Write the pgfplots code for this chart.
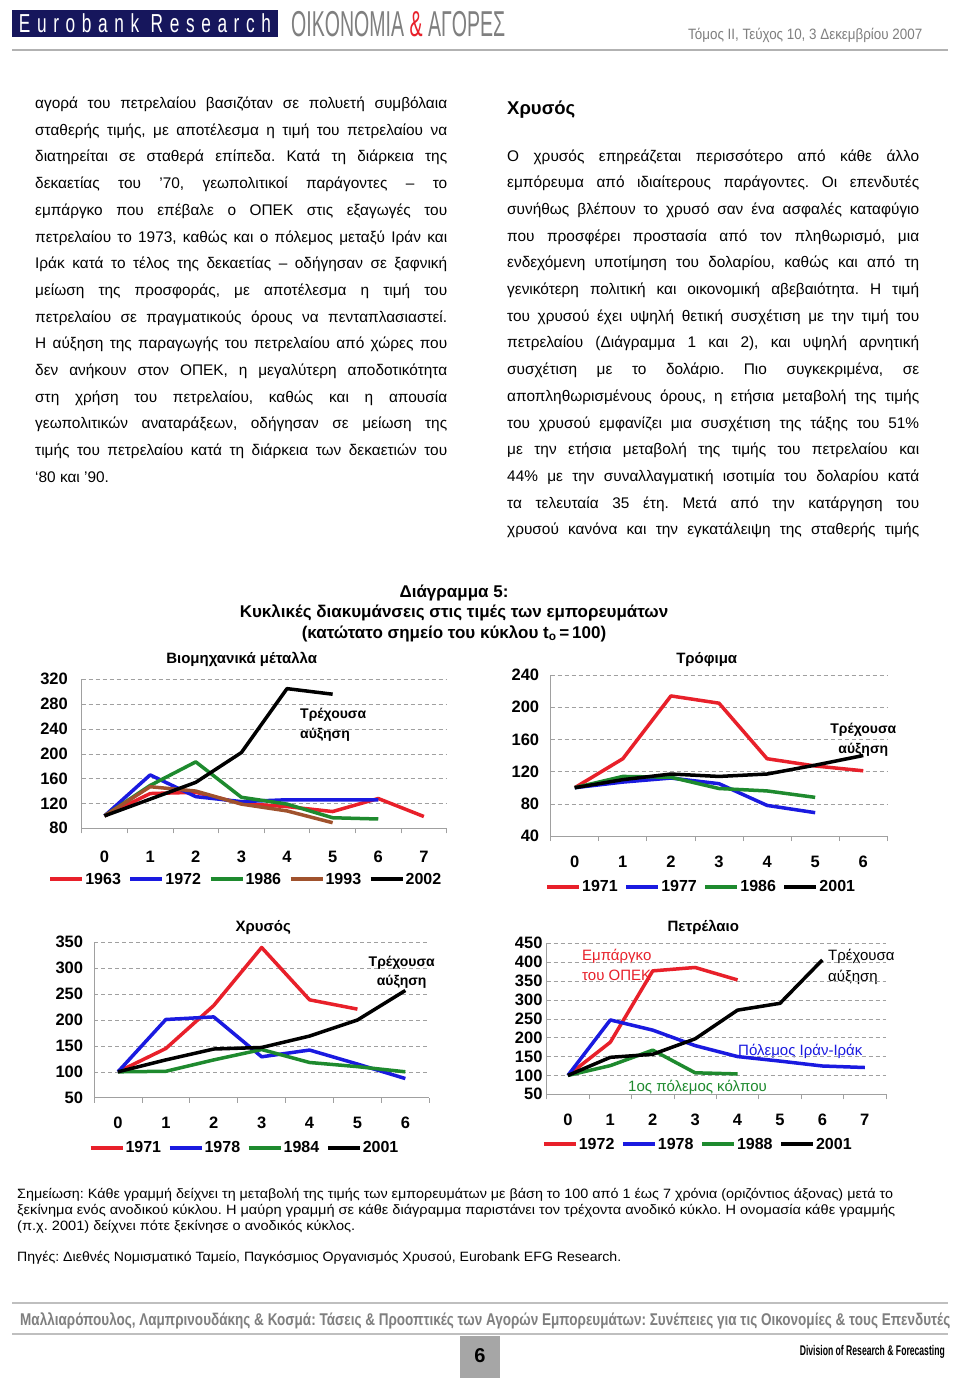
\documentclass[border=0pt]{standalone}
\usepackage{fontspec}
\setmainfont{Liberation Sans}
\newfontfamily\narrowfont[FakeStretch=0.78]{Liberation Sans}
\usepackage{graphicx}
\usepackage{pgfplots}
\pgfplotsset{compat=1.18}

\definecolor{cred}{HTML}{E8202A}
\definecolor{cblue}{HTML}{1A1AE0}
\definecolor{cgreen}{HTML}{1E8A2E}
\definecolor{cbrown}{HTML}{A0522D}
\definecolor{navy}{HTML}{16165C}
\definecolor{hdrgrey}{HTML}{7F7F7F}
\definecolor{axgrey}{HTML}{A0A0A0}

\newcommand\fs[1]{\fontsize{#1}{#1}\selectfont}
\newsavebox\fitbox
% stretch or squeeze a line horizontally to an exact width
\newcommand\fitto[2]{\sbox\fitbox{#2}\resizebox{#1}{\ht\fitbox}{\usebox\fitbox}}
\newcommand\bl[3]{\node[anchor=base west,inner sep=0pt] at (#1,#2) {\fs{15.4}\makebox[412pt][s]{#3}};}
\newcommand\bll[3]{\node[anchor=base west,inner sep=0pt] at (#1,#2) {\fs{15.4}#3};}

\pgfplotsset{
  cyc/.style={
    scale only axis, enlargelimits=false, clip=false,
    axis x line*=bottom, axis y line*=left,
    axis line style={draw=axgrey, line width=0.8pt},
    ymajorgrids,
    major grid style={draw=axgrey, dash pattern=on 4pt off 3pt, line width=0.6pt},
    major tick length=0pt, minor tick length=5pt, tick align=outside,
    minor tick style={draw=axgrey, line width=0.8pt},
    /pgf/number format/assume math mode=true,
    ticklabel style={font=\bfseries\fs{16.5}, inner sep=0pt},
    xticklabel style={anchor=base},
    yticklabel style={anchor=east},
    no markers,
    every axis plot/.append style={line width=3.5pt, line join=round},
    legend columns=-1,
    legend style={draw=none, fill=none, anchor=west, inner sep=0pt,
      font=\bfseries\fs{16}, nodes={inner sep=1pt}, column sep=0pt},
    legend image code/.code={\draw[##1, line width=4pt] (0pt,0pt) -- (32pt,0pt);},
  }
}

\begin{document}
\frenchspacing
\begin{tikzpicture}
\fill[white] (0pt,0pt) rectangle (960pt,-1381pt);
\path[use as bounding box] (0pt,0pt) rectangle (960pt,-1381pt);

\begin{scope}[x=1pt,y=-1pt]
% header
\fill[navy] (12,10) rectangle (278,37);
\node[anchor=base,inner sep=0pt,text=white] at (145,33) {\fitto{252pt}{\narrowfont\addfontfeature{LetterSpace=30}\fs{26}Eurobank Research}};
\node[anchor=base west,inner sep=0pt,text=hdrgrey] at (291,37) {\fitto{214pt}{\narrowfont\fs{36}OIKONOMIA {\color{cred}\&} ΑΓΟΡΕΣ}};
\node[anchor=base west,inner sep=0pt,text=hdrgrey] at (688,40) {\fitto{234pt}{\narrowfont\fs{15}Τόμος ΙΙ, Τεύχος 10, 3 Δεκεμβρίου 2007}};
\draw[gray!60, line width=2pt] (12,50) -- (948,50);

% left column
\bl{35}{108.5}{αγορά του πετρελαίου βασιζόταν σε πολυετή συμβόλαια}
\bl{35}{135.2}{σταθερής τιμής, με αποτέλεσμα η τιμή του πετρελαίου να}
\bl{35}{161.9}{διατηρείται σε σταθερά επίπεδα. Κατά τη διάρκεια της}
\bl{35}{188.6}{δεκαετίας του ’70, γεωπολιτικοί παράγοντες – το}
\bl{35}{215.3}{εμπάργκο που επέβαλε ο ΟΠΕΚ στις εξαγωγές του}
\bl{35}{242.0}{πετρελαίου το 1973, καθώς και ο πόλεμος μεταξύ Ιράν και}
\bl{35}{268.7}{Ιράκ κατά το τέλος της δεκαετίας – οδήγησαν σε ξαφνική}
\bl{35}{295.4}{μείωση της προσφοράς, με αποτέλεσμα η τιμή του}
\bl{35}{322.1}{πετρελαίου σε πραγματικούς όρους να πενταπλασιαστεί.}
\bl{35}{348.8}{Η αύξηση της παραγωγής του πετρελαίου από χώρες που}
\bl{35}{375.5}{δεν ανήκουν στον ΟΠΕΚ, η μεγαλύτερη αποδοτικότητα}
\bl{35}{402.2}{στη χρήση του πετρελαίου, καθώς και η απουσία}
\bl{35}{428.9}{γεωπολιτικών αναταράξεων, οδήγησαν σε μείωση της}
\bl{35}{455.6}{τιμής του πετρελαίου κατά τη διάρκεια των δεκαετιών του}
\bll{35}{482.3}{‘80 και ’90.}

% right column
\node[anchor=base west,inner sep=0pt] at (507,114) {\bfseries\fs{18.5}Χρυσός};
\bl{507}{161.0}{Ο χρυσός επηρεάζεται περισσότερο από κάθε άλλο}
\bl{507}{187.7}{εμπόρευμα από ιδιαίτερους παράγοντες. Οι επενδυτές}
\bl{507}{214.4}{συνήθως βλέπουν το χρυσό σαν ένα ασφαλές καταφύγιο}
\bl{507}{241.1}{που προσφέρει προστασία από τον πληθωρισμό, μια}
\bl{507}{267.8}{ενδεχόμενη υποτίμηση του δολαρίου, καθώς και από τη}
\bl{507}{294.5}{γενικότερη πολιτική και οικονομική αβεβαιότητα. Η τιμή}
\bl{507}{321.2}{του χρυσού έχει υψηλή θετική συσχέτιση με την τιμή του}
\bl{507}{347.9}{πετρελαίου (Διάγραμμα 1 και 2), και υψηλή αρνητική}
\bl{507}{374.6}{συσχέτιση με το δολάριο. Πιο συγκεκριμένα, σε}
\bl{507}{401.3}{αποπληθωρισμένους όρους, η ετήσια μεταβολή της τιμής}
\bl{507}{428.0}{του χρυσού εμφανίζει μια συσχέτιση της τάξης του 51\%}
\bl{507}{454.7}{με την ετήσια μεταβολή της τιμής του πετρελαίου και}
\bl{507}{481.4}{44\% με την συναλλαγματική ισοτιμία του δολαρίου κατά}
\bl{507}{508.1}{τα τελευταία 35 έτη. Μετά από την κατάργηση του}
\bl{507}{534.8}{χρυσού κανόνα και την εγκατάλειψη της σταθερής τιμής}

% figure heading
\node[anchor=base,inner sep=0pt] at (454,597) {\bfseries\fs{17}Διάγραμμα 5:};
\node[anchor=base,inner sep=0pt] at (454,617.5) {\bfseries\fs{17}Κυκλικές διακυμάνσεις στις τιμές των εμπορευμάτων};
\node[anchor=base,inner sep=0pt] at (454,638) {\bfseries\fs{17}(κατώτατο σημείο του κύκλου t\textsubscript{o}\,=\,100)};

% panel titles and labels
\node[anchor=base,inner sep=0pt] at (241.7,663) {\bfseries\fs{15}Βιομηχανικά μέταλλα};
\node[anchor=base west,inner sep=0pt] at (300,718) {\bfseries\fs{14}Τρέχουσα};
\node[anchor=base west,inner sep=0pt] at (300,738) {\bfseries\fs{14}αύξηση};

\node[anchor=base,inner sep=0pt] at (706.7,663) {\bfseries\fs{15}Τρόφιμα};
\node[anchor=base,inner sep=0pt] at (863.3,733) {\bfseries\fs{14}Τρέχουσα};
\node[anchor=base,inner sep=0pt] at (863.3,753) {\bfseries\fs{14}αύξηση};

\node[anchor=base,inner sep=0pt] at (263.3,931.7) {\bfseries\fs{15}Χρυσός};
\node[anchor=base,inner sep=0pt] at (401.7,966.7) {\bfseries\fs{14}Τρέχουσα};
\node[anchor=base,inner sep=0pt] at (401.7,985) {\bfseries\fs{14}αύξηση};

\node[anchor=base,inner sep=0pt] at (703.3,931.7) {\bfseries\fs{15}Πετρέλαιο};
\node[anchor=base west,inner sep=0pt,text=cred] at (582,960) {\fs{15}Εμπάργκο};
\node[anchor=base west,inner sep=0pt,text=cred] at (582,980) {\fs{15}του ΟΠΕΚ};
\node[anchor=base west,inner sep=0pt] at (828,960) {\fs{15}Τρέχουσα};
\node[anchor=base west,inner sep=0pt] at (828,981.7) {\fs{15}αύξηση};
\node[anchor=base west,inner sep=0pt,text=cblue] at (738,1055) {\fs{15}Πόλεμος Ιράν-Ιράκ};
\node[anchor=base west,inner sep=0pt,text=cgreen] at (628,1091) {\fs{15}1ος πόλεμος κόλπου};

% notes
\node[anchor=base west,inner sep=0pt] at (17,1198) {\fitto{876pt}{\fs{13.5}Σημείωση: Κάθε γραμμή δείχνει τη μεταβολή της τιμής των εμπορευμάτων με βάση το 100 από 1 έως 7 χρόνια (οριζόντιος άξονας) μετά το}};
\node[anchor=base west,inner sep=0pt] at (17,1214) {\fitto{878pt}{\fs{13.5}ξεκίνημα ενός ανοδικού κύκλου. Η μαύρη γραμμή σε κάθε διάγραμμα παριστάνει τον τρέχοντα ανοδικό κύκλο. Η ονομασία κάθε γραμμής}};
\node[anchor=base west,inner sep=0pt] at (17,1230) {\fitto{338pt}{\fs{13.5}(π.χ. 2001) δείχνει πότε ξεκίνησε ο ανοδικός κύκλος.}};
\node[anchor=base west,inner sep=0pt] at (17,1261) {\fitto{604pt}{\fs{13.5}Πηγές: Διεθνές Νομισματικό Ταμείο, Παγκόσμιος Οργανισμός Χρυσού, Eurobank EFG Research.}};

% footer
\draw[gray!50, line width=2pt] (12,1303) -- (948,1303);
\node[anchor=base west,inner sep=0pt,text=hdrgrey] at (20,1325) {\fitto{930pt}{\bfseries\fs{17}Μαλλιαρόπουλος, Λαμπρινουδάκης \& Κοσμά: Τάσεις \& Προοπτικές των Αγορών Εμπορευμάτων: Συνέπειες για τις Οικονομίες \& τους Επενδυτές}};
\draw[gray!50, line width=2pt] (12,1334) -- (948,1334);
\fill[gray!70] (460,1336) rectangle (500,1378);
\node[inner sep=0pt] at (480,1356) {\bfseries\fs{20}6};
\node[anchor=base east,inner sep=0pt] at (945,1355) {\fitto{145pt}{\bfseries\fs{14}Division of Research \& Forecasting}};
\end{scope}

% Βιομηχανικά μέταλλα
\begin{axis}[cyc, at={(81.7pt,-828.3pt)}, anchor=south west,
  width=365pt, height=149pt,
  xmin=-0.5, xmax=7.5, ymin=80, ymax=320,
  xtick={0,...,7}, minor xtick={-0.5,0.5,...,7.5}, ytick={80,120,...,320},
  yticklabel style={xshift=-13.7pt}, xticklabel style={yshift=-33.7pt},
  legend style={at={(-0.092,-0.342)}, /tikz/every even column/.append style={column sep=6.5pt}}]
\addplot[cred] coordinates {(0,100)(1,136)(2,138)(3,120)(4,115)(5,107)(6,128)(7,99)};
\addplot[cblue] coordinates {(0,100)(1,166)(2,131)(3,123)(4,126)(5,126)(6,126)};
\addplot[cgreen] coordinates {(0,100)(1,149)(2,187)(3,130)(4,119)(5,97)(6,95)};
\addplot[cbrown] coordinates {(0,100)(1,147)(2,140)(3,119)(4,108)(5,89)};
\addplot[black] coordinates {(0,100)(1,127)(2,154)(3,202)(4,305)(5,296)};
\legend{1963,1972,1986,1993,2002}
\end{axis}

% Τρόφιμα
\begin{axis}[cyc, at={(550.7pt,-836pt)}, anchor=south west,
  width=336.6pt, height=161pt,
  xmin=-0.5, xmax=6.5, ymin=40, ymax=240,
  xtick={0,...,6}, minor xtick={-0.5,0.5,...,6.5}, ytick={40,80,...,240},
  yticklabel style={xshift=-11.4pt}, xticklabel style={yshift=-31pt},
  legend style={at={(-0.017,-0.315)}, /tikz/every even column/.append style={column sep=5.5pt}}]
\addplot[cred] coordinates {(0,100)(1,136)(2,214)(3,205)(4,136)(5,127)(6,121)};
\addplot[cblue] coordinates {(0,100)(1,107)(2,112)(3,105)(4,78)(5,69)};
\addplot[cgreen] coordinates {(0,100)(1,114)(2,113)(3,99)(4,96)(5,88)};
\addplot[black] coordinates {(0,100)(1,110)(2,117)(3,114)(4,117)(5,128)(6,140)};
\legend{1971,1977,1986,2001}
\end{axis}

% Χρυσός
\begin{axis}[cyc, at={(94pt,-1097.7pt)}, anchor=south west,
  width=335.3pt, height=155.4pt,
  xmin=-0.5, xmax=6.5, ymin=50, ymax=350,
  xtick={0,...,6}, minor xtick={-0.5,0.5,...,6.5}, ytick={50,100,...,350},
  yticklabel style={xshift=-10.7pt}, xticklabel style={yshift=-30.6pt},
  legend style={at={(-0.017,-0.322)}, /tikz/every even column/.append style={column sep=5.5pt}}]
\addplot[cred] coordinates {(0,100)(1,145)(2,228)(3,340)(4,239)(5,221)};
\addplot[cblue] coordinates {(0,100)(1,201)(2,206)(3,129)(4,142)(5,115)(6,87)};
\addplot[cgreen] coordinates {(0,100)(1,101)(2,123)(3,143)(4,118)(5,110)(6,100)};
\addplot[black] coordinates {(0,100)(1,123)(2,144)(3,147)(4,169)(5,200)(6,257)};
\legend{1971,1978,1984,2001}
\end{axis}

% Πετρέλαιο
\begin{axis}[cyc, at={(546.7pt,-1094.3pt)}, anchor=south west,
  width=339.3pt, height=151pt,
  xmin=-0.5, xmax=7.5, ymin=50, ymax=450,
  xtick={0,...,7}, minor xtick={-0.5,0.5,...,7.5}, ytick={50,100,...,450},
  yticklabel style={xshift=-4pt}, xticklabel style={yshift=-30.7pt},
  legend style={at={(-0.015,-0.331)}, /tikz/every even column/.append style={column sep=5.5pt}}]
\addplot[cred] coordinates {(0,100)(1,188)(2,377)(3,386)(4,353)};
\addplot[cblue] coordinates {(0,100)(1,247)(2,220)(3,179)(4,150)(5,138)(6,125)(7,121)};
\addplot[cgreen] coordinates {(0,100)(1,126)(2,167)(3,107)(4,104)};
\addplot[black] coordinates {(0,100)(1,148)(2,156)(3,197)(4,273)(5,291)(6,406)};
\legend{1972,1978,1988,2001}
\end{axis}
\end{tikzpicture}
\end{document}
